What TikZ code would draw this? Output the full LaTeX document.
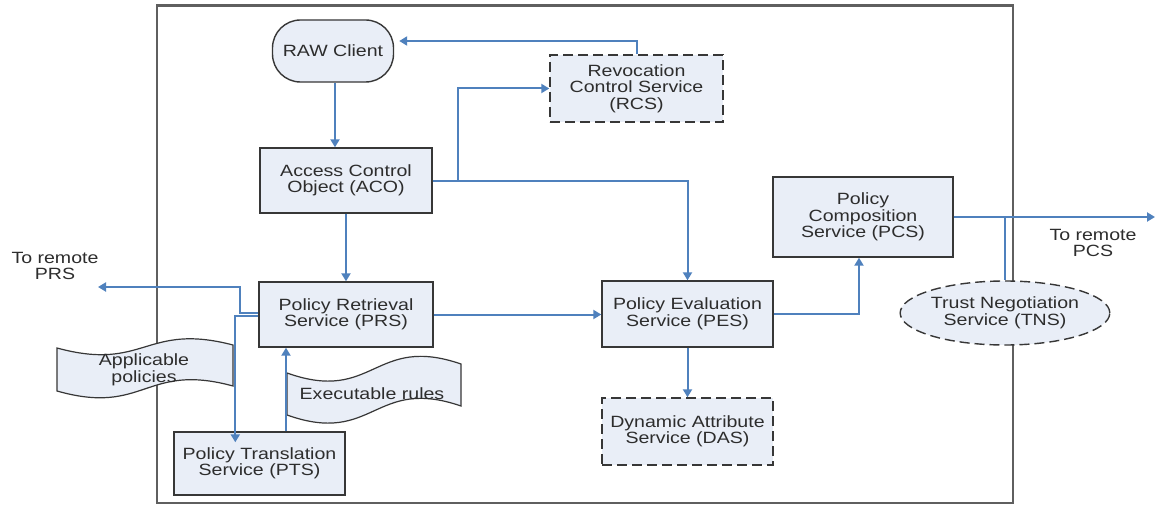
\documentclass[tikz,border=0pt]{standalone}
\usepackage{fontspec}
\setmainfont{Liberation Sans}[FakeStretch=1.2]
\usetikzlibrary{arrows.meta,shapes.geometric,calc}
\definecolor{arrowblue}{RGB}{79,129,189}
\definecolor{boxfill}{RGB}{233,238,247}
\definecolor{boxline}{RGB}{55,55,55}
\definecolor{textgray}{RGB}{45,45,45}
\definecolor{framegray}{RGB}{95,95,95}
\begin{document}
\begin{tikzpicture}[x=1pt,y=-1pt,
 every node/.style={font=\fontsize{16.3}{16.5}\selectfont, text=textgray, align=center, inner sep=0pt},
 svcbox/.style={draw=boxline, fill=boxfill, line width=1.4pt, rectangle},
 dashbox/.style={svcbox, dash pattern=on 10pt off 5pt},
 tape/.style={draw=boxline, fill=boxfill, line width=1.2pt},
 arr/.style={draw=arrowblue, line width=2pt, -{Triangle[length=8pt,width=9pt]}},
 conn/.style={draw=arrowblue, line width=2pt},
]
\useasboundingbox (0,0) rectangle (1156,508);
\fill[white] (0,0) rectangle (1156,508);
% frame
\draw[framegray, line width=2.5pt] (157,5.5) rectangle (1013,503);
% tapes
\path[tape] (57,348) .. controls (145,372) and (145,322) .. (233,345) -- (233,386) .. controls (145,362) and (145,416) .. (57,391) -- cycle;
\node (app) at (144,370) {Applicable\\policies};
\path[tape] (287,373) .. controls (374,404) and (374,334) .. (461,364) -- (461,406) .. controls (374,376) and (374,446) .. (287,415) -- cycle;
\node (exe) at (372,394) {Executable rules};
% nodes
\node[svcbox, rounded corners=28pt, minimum width=121pt, minimum height=62pt] (raw) at (333,51) {RAW Client};
\node[svcbox, minimum width=172pt, minimum height=65pt] (aco) at (346,180.5) {Access Control\\Object (ACO)};
\node[dashbox, minimum width=173pt, minimum height=67pt] (rcs) at (636.5,88.5) {Revocation\\Control Service\\(RCS)};
\node[svcbox, minimum width=174pt, minimum height=65pt] (prs) at (346,314.5) {Policy Retrieval\\Service (PRS)};
\node[svcbox, minimum width=171pt, minimum height=66pt] (pes) at (687.5,314) {Policy Evaluation\\Service (PES)};
\node[svcbox, minimum width=180pt, minimum height=80pt] (pcs) at (863,217) {Policy\\Composition\\Service (PCS)};
\node[dashbox, minimum width=171pt, minimum height=67pt] (das) at (687.5,431.5) {Dynamic Attribute\\Service (DAS)};
\node[svcbox, minimum width=171pt, minimum height=63pt] (pts) at (259.5,463.5) {Policy Translation\\Service (PTS)};
\node[draw=boxline, fill=boxfill, line width=1.4pt, dash pattern=on 10pt off 5pt, ellipse, minimum width=176pt, minimum height=64pt] (tns) at (1005,313) {Trust Negotiation\\Service (TNS)};
% labels
\node (lprs) at (55,266) {To remote\\PRS};
\node (lpcs) at (1093,243) {To remote\\PCS};
% free ends
\coordinate (prsend) at (98,287);
\coordinate (pcsend) at (1155,217);
\coordinate (ptsin) at ([yshift=-11pt]pts.north);
% connectors
\draw[arr] ([xshift=2pt]raw.south) -- ([xshift=2pt]raw.south |- aco.north);
\draw[arr] (rcs.north) |- ([xshift=5pt,yshift=10pt]raw.east);
\draw[arr] (aco.east) -- ++(25,0) |- (rcs.west);
\draw[arr] (aco.east) -| (pes.north);
\draw[arr] (aco.south) -- (prs.north);
\draw[arr] (prs.east) -- (prs.east -| pes.west);
\draw[arr] (pes.east) -| ([xshift=-4pt]pcs.south);
\draw[arr] (pes.south) -- (das.north);
\draw[arr] (pcs.east) -- (pcs.east -| pcsend);
\draw[conn] (tns.north) -- (tns.north |- pcs.east);
\draw[arr] ([yshift=1.5pt]prs.west) -- ++(-18,0) |- (prsend);
\draw[arr] ([yshift=-1pt]prs.west) -- ++(-23,0) coordinate (ptsbend) -- (ptsbend |- ptsin);
\draw[arr] ([xshift=26.5pt]pts.north) -- ([xshift=26.5pt]pts.north |- prs.south);
\end{tikzpicture}
\end{document}
